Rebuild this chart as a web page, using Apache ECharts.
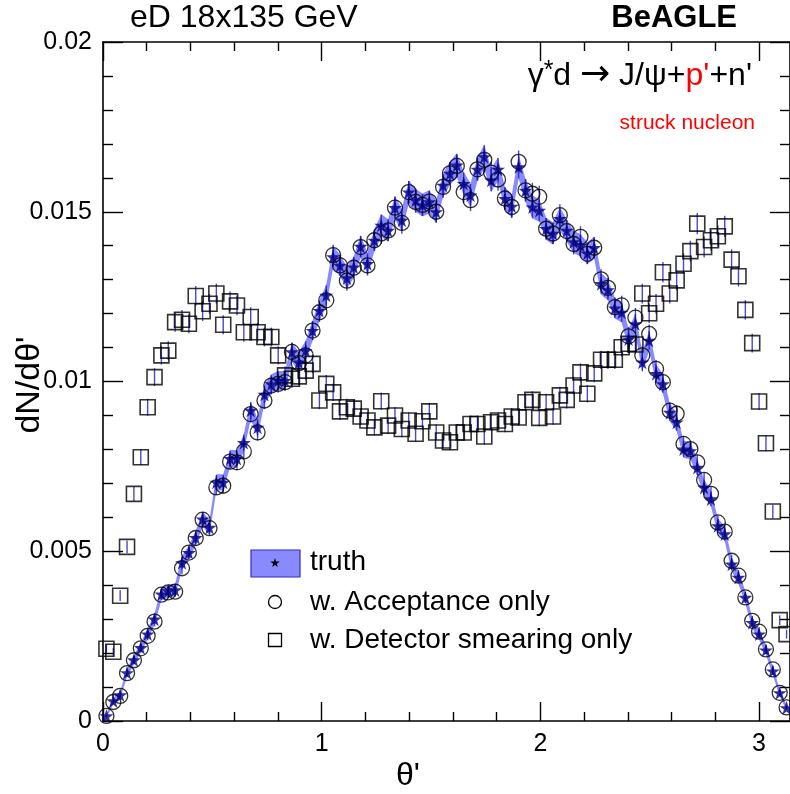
<!DOCTYPE html>
<html>
<head>
<meta charset="utf-8">
<script src="https://cdn.jsdelivr.net/npm/echarts@6/dist/echarts.min.js"></script>
<style>
  html, body { margin: 0; padding: 0; background: #fff; }
  #chart { width: 790px; height: 794px; }
</style>
</head>
<body>
<div id="chart"></div>
<script>
// theta' binning: 100 bins from 0 to pi
var nBins = 100;
var thetaMax = Math.PI;

var xMajorTicks = [0, 1, 2, 3];
var yMajorTicks = [0, 0.005, 0.01, 0.015, 0.02];

// truth (stars)
var truth = [
  0.00015, 0.00059, 0.00077, 0.00142, 0.00180, 0.00216, 0.00256, 0.00300, 0.00374, 0.00383,
  0.00386, 0.00466, 0.00496, 0.00540, 0.00595, 0.00570, 0.00703, 0.00703, 0.00773, 0.00773,
  0.00820, 0.00915, 0.00865, 0.00962, 0.00993, 0.01003, 0.01003, 0.01087, 0.01057, 0.01091,
  0.01150, 0.01209, 0.01254, 0.01367, 0.01342, 0.01305, 0.01337, 0.01398, 0.01347, 0.01416,
  0.01460, 0.01445, 0.01512, 0.01475, 0.01558, 0.01534, 0.01520, 0.01529, 0.01500, 0.01578,
  0.01613, 0.01637, 0.01583, 0.01549, 0.01625, 0.01662, 0.01593, 0.01625, 0.01539, 0.01516,
  0.01632, 0.01563, 0.01514, 0.01504, 0.01450, 0.01436, 0.01480, 0.01445, 0.01411, 0.01401,
  0.01378, 0.01394, 0.01288, 0.01270, 0.01216, 0.01204, 0.01125, 0.01170, 0.01057, 0.01121,
  0.01023, 0.00993, 0.00909, 0.00880, 0.00801, 0.00796, 0.00747, 0.00688, 0.00654, 0.00575,
  0.00551, 0.00462, 0.00423, 0.00364, 0.00290, 0.00256, 0.00209, 0.00147, 0.00083, 0.00039
];

// w. acceptance only (open circles)
var acceptance = [
  0.00015, 0.00056, 0.00074, 0.00141, 0.00179, 0.00214, 0.00251, 0.00293, 0.00372, 0.00379,
  0.00381, 0.00450, 0.00496, 0.00539, 0.00593, 0.00568, 0.00688, 0.00693, 0.00764, 0.00762,
  0.00794, 0.00904, 0.00850, 0.00944, 0.00988, 0.00993, 0.00998, 0.01087, 0.01054, 0.01077,
  0.01150, 0.01204, 0.01239, 0.01372, 0.01342, 0.01297, 0.01335, 0.01396, 0.01342, 0.01416,
  0.01436, 0.01445, 0.01512, 0.01467, 0.01558, 0.01529, 0.01520, 0.01530, 0.01500, 0.01573,
  0.01613, 0.01635, 0.01558, 0.01534, 0.01625, 0.01653, 0.01615, 0.01595, 0.01539, 0.01514,
  0.01647, 0.01563, 0.01553, 0.01544, 0.01450, 0.01436, 0.01490, 0.01443, 0.01405, 0.01426,
  0.01376, 0.01394, 0.01301, 0.01276, 0.01219, 0.01224, 0.01133, 0.01188, 0.01077, 0.01140,
  0.01037, 0.00998, 0.00914, 0.00905, 0.00816, 0.00801, 0.00762, 0.00710, 0.00669, 0.00585,
  0.00558, 0.00472, 0.00428, 0.00364, 0.00295, 0.00263, 0.00211, 0.00152, 0.00083, 0.00040
];

// w. detector smearing only (open squares)
var smearing = [
  0.00213, 0.00204, 0.00369, 0.00513, 0.00669, 0.00777, 0.00924, 0.01013, 0.01077, 0.01091,
  0.01175, 0.01182, 0.01170, 0.01252, 0.01207, 0.01229, 0.01259, 0.01167, 0.01236, 0.01224,
  0.01145, 0.01190, 0.01145, 0.01131, 0.01131, 0.01077, 0.01018, 0.01008, 0.01015, 0.01032,
  0.01052, 0.00944, 0.00993, 0.00968, 0.00912, 0.00924, 0.00920, 0.00897, 0.00885, 0.00865,
  0.00942, 0.00870, 0.00900, 0.00860, 0.00885, 0.00846, 0.00883, 0.00912, 0.00850, 0.00826,
  0.00821, 0.00850, 0.00850, 0.00875, 0.00875, 0.00838, 0.00880, 0.00885, 0.00875, 0.00897,
  0.00894, 0.00939, 0.00946, 0.00893, 0.00939, 0.00897, 0.00959, 0.00946, 0.00988, 0.01027,
  0.00964, 0.01024, 0.01064, 0.01064, 0.01064, 0.01101, 0.01111, 0.01109, 0.01259, 0.01201,
  0.01229, 0.01322, 0.01259, 0.01298, 0.01347, 0.01384, 0.01465, 0.01396, 0.01416, 0.01428,
  0.01457, 0.01359, 0.01310, 0.01211, 0.01113, 0.00941, 0.00818, 0.00617, 0.00297, 0.00256
];

var binCenters = truth.map(function (v, i) { return (i + 0.5) * thetaMax / nBins; });

function pairs(vals) {
  return vals.map(function (v, i) { return [binCenters[i], v]; });
}

var FONT = '"Liberation Sans", Arial, Helvetica, sans-serif';
var STAR_PTS = [[50,0],[61,35],[98,35],[68,57],[79,91],[50,70],[21,91],[32,57],[2,35],[39,35]];
var STAR = 'path://M' + STAR_PTS.map(function (p) { return p.join(','); }).join(' L') + ' Z';
var BAND = '#8a8aff';
var BAR = '#1c1cc0';

// minor tick positions on theta' axis (every 0.2)
var xMinorTicks = [];
for (var k = 1; k <= 15; k++) {
  if (k % 5 !== 0) xMinorTicks.push(k / 5);
}

// error bar height (pixels) grows like sqrt of the content
function barSize(val) {
  return [1.4, 5.6 * Math.sqrt(val[1] * 1000)];
}

// small star for the legend box
function legendStar(cx, cy, size) {
  var s = size / 100;
  return STAR_PTS.map(function (p) { return [cx + (p[0] - 50) * s, cy + (p[1] - 50) * s]; });
}

var chart = echarts.init(document.getElementById('chart'), null, { renderer: 'canvas' });

function xAxisDef(pos, major, showLabel) {
  return {
    type: 'value', position: pos, min: 0, max: thetaMax, gridIndex: 0,
    axisLine: { show: major, onZero: false, lineStyle: { color: '#000', width: 1.6 } },
    axisTick: { show: true, inside: true, length: major ? 19 : 9,
      customValues: major ? xMajorTicks : xMinorTicks,
      lineStyle: { color: '#000', width: 1.4 } },
    axisLabel: { show: showLabel, customValues: xMajorTicks, margin: 11,
      fontFamily: FONT, fontSize: 25, color: '#000' },
    splitLine: { show: false }
  };
}

function yAxisDef(pos, showLabel) {
  return {
    type: 'value', position: pos, min: 0, max: 0.02, interval: 0.005,
    axisLine: { show: true, onZero: false, lineStyle: { color: '#000', width: 1.6 } },
    axisTick: { show: true, inside: true, length: 20, lineStyle: { color: '#000', width: 1.4 } },
    minorTick: { show: true, splitNumber: 5, length: 10, lineStyle: { color: '#000', width: 1.4 } },
    axisLabel: { show: showLabel, customValues: yMajorTicks, margin: 11,
      fontFamily: FONT, fontSize: 25, color: '#000' },
    splitLine: { show: false }
  };
}

chart.setOption({
  animation: false,
  backgroundColor: '#fff',
  grid: { left: 103, right: -3, top: 42, bottom: 73 },
  xAxis: [
    xAxisDef('bottom', true, true),
    xAxisDef('bottom', false, false),
    xAxisDef('top', true, false),
    xAxisDef('top', false, false)
  ],
  yAxis: [yAxisDef('left', true), yAxisDef('right', false)],
  series: [
    {
      name: 'truth band',
      type: 'custom',
      z: 1,
      data: pairs(truth),
      renderItem: function (params, api) {
        if (params.dataIndex !== 0) return null;
        var upper = [], lower = [];
        truth.forEach(function (v, i) {
          var p = api.coord([binCenters[i], v]);
          var h = 2.7 * Math.sqrt(v * 1000) + 1;
          upper.push([p[0], p[1] - h]);
          lower.unshift([p[0], p[1] + h]);
        });
        return {
          type: 'polygon',
          shape: { points: upper.concat(lower) },
          style: { fill: BAND }
        };
      }
    },
    {
      name: 'smearing err', type: 'scatter', z: 2, data: pairs(smearing),
      symbol: 'rect', symbolSize: barSize, itemStyle: { color: BAR }, silent: true
    },
    {
      name: 'acceptance err', type: 'scatter', z: 2, data: pairs(acceptance),
      symbol: 'rect', symbolSize: barSize, itemStyle: { color: BAR }, silent: true
    },
    {
      name: 'truth err', type: 'scatter', z: 2, data: pairs(truth),
      symbol: 'rect', symbolSize: barSize, itemStyle: { color: BAR }, silent: true
    },
    {
      name: 'w. Detector smearing only', type: 'scatter', z: 3, data: pairs(smearing),
      symbol: 'rect', symbolSize: 15,
      itemStyle: { color: 'rgba(0,0,0,0)', borderColor: '#000', borderWidth: 1.6 }
    },
    {
      name: 'w. Acceptance only', type: 'scatter', z: 4, data: pairs(acceptance),
      symbol: 'circle', symbolSize: 15,
      itemStyle: { color: 'rgba(0,0,0,0)', borderColor: '#000', borderWidth: 1.3 }
    },
    {
      name: 'truth', type: 'scatter', z: 5, data: pairs(truth),
      symbol: STAR, symbolSize: 14,
      itemStyle: { color: '#000080' }
    }
  ],
  graphic: [
    { type: 'text', x: 130, y: 18,
      style: { text: 'eD 18x135 GeV', font: '32px ' + FONT, fill: '#000', verticalAlign: 'middle' } },
    { type: 'text', x: 737, y: 18,
      style: { text: 'BeAGLE', font: 'bold 31px ' + FONT, fill: '#000', align: 'right', verticalAlign: 'middle' } },
    { type: 'text', x: 752, y: 76,
      style: {
        text: '{n|\u03b3}{s|*}{n|d }{a|\u2192}{n| J/\u03c8+}{r|p\'}{n|+n\'}',
        align: 'right', verticalAlign: 'middle',
        rich: {
          n: { font: '32px ' + FONT, fill: '#000' },
          s: { font: '25px ' + FONT, fill: '#000', padding: [0, 0, 10, 0] },
          a: { font: '36px "DejaVu Sans", sans-serif', fill: '#000' },
          r: { font: '32px ' + FONT, fill: '#ff0000' }
        }
      } },
    { type: 'text', x: 755, y: 123,
      style: { text: 'struck nucleon', font: '21px ' + FONT, fill: '#ff0000', align: 'right', verticalAlign: 'middle' } },
    { type: 'text', x: 30, y: 385, rotation: Math.PI / 2,
      style: { text: 'dN/d\u03b8\'', font: '34px ' + FONT, fill: '#000',
        align: 'center', verticalAlign: 'middle' } },
    { type: 'text', x: 408, y: 776,
      style: { text: '\u03b8\'', font: '32px ' + FONT, fill: '#000',
        align: 'center', verticalAlign: 'middle' } },
    // legend
    { type: 'rect', shape: { x: 251, y: 550, width: 49, height: 27 },
      style: { fill: BAND, stroke: '#2c2cc8', lineWidth: 1.2 } },
    { type: 'polygon', shape: { points: legendStar(275, 563, 10) }, style: { fill: '#000' } },
    { type: 'text', x: 310, y: 562,
      style: { text: 'truth', font: '28px ' + FONT, fill: '#000', verticalAlign: 'middle' } },
    { type: 'circle', shape: { cx: 275, cy: 602, r: 6.5 },
      style: { fill: 'none', stroke: '#000', lineWidth: 1.3 } },
    { type: 'text', x: 310, y: 602,
      style: { text: 'w. Acceptance only', font: '28px ' + FONT, fill: '#000', verticalAlign: 'middle' } },
    { type: 'rect', shape: { x: 268.5, y: 633.5, width: 13, height: 13 },
      style: { fill: 'none', stroke: '#000', lineWidth: 1.3 } },
    { type: 'text', x: 310, y: 640,
      style: { text: 'w. Detector smearing only', font: '28px ' + FONT, fill: '#000', verticalAlign: 'middle' } }
  ]
});
</script>
</body>
</html>
